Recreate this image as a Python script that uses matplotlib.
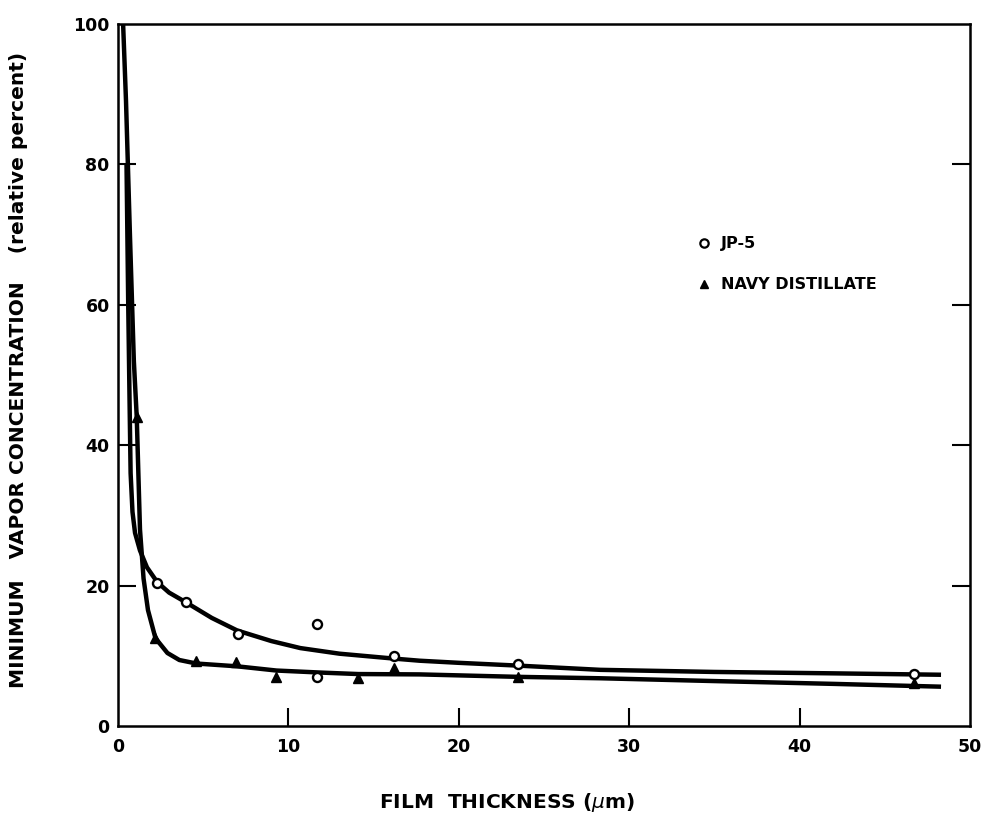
import matplotlib
matplotlib.use("Agg")
import matplotlib.pyplot as plt

# measured points
jp5_x = [2.27, 4.0, 7.05, 11.7, 11.7, 16.2, 23.5, 46.7]
jp5_y = [20.3, 17.6, 13.1, 14.6, 7.0, 10.0, 8.8, 7.4]

navy_x = [1.1, 2.17, 4.6, 6.95, 9.3, 14.1, 16.2, 23.5, 46.7]
navy_y = [44.0, 12.6, 9.2, 9.1, 7.0, 6.8, 8.2, 7.05, 6.1]

# hand-drawn fit curves
jp5_curve_x = [0.5, 0.6, 0.68, 0.74, 0.85, 1.0, 1.29, 1.7, 2.3, 3.0, 4.0, 5.5, 7.0,
               9.0, 10.7, 13.0, 16.2, 17.7, 20.0, 23.5, 28.3, 35.0, 42.0, 48.3]
jp5_curve_y = [80, 60, 46, 36, 30.5, 27.5, 25.0, 22.6, 20.5, 19.0, 17.6, 15.4, 13.6,
               12.1, 11.1, 10.3, 9.6, 9.3, 9.0, 8.6, 8.0, 7.7, 7.5, 7.3]

navy_curve_x = [0.3, 0.47, 0.7, 0.93, 1.1, 1.29, 1.5, 1.76, 2.2, 2.9, 3.6, 4.6, 7.0,
                9.3, 12.0, 14.1, 17.7, 23.5, 28.3, 35.0, 42.0, 48.3]
navy_curve_y = [100, 89, 70, 52, 44, 28, 21, 16.5, 12.5, 10.4, 9.4, 8.9, 8.5,
                7.9, 7.6, 7.4, 7.35, 7.0, 6.8, 6.4, 6.0, 5.6]

x_ticks = [0, 10, 20, 30, 40, 50]
y_ticks = [0, 20, 40, 60, 80, 100]

fig = plt.figure(figsize=(9.89, 8.25), dpi=100)
ax = fig.add_axes([118 / 989, 1 - 726 / 825, 852 / 989, 702 / 825])

ax.plot(navy_curve_x, navy_curve_y, color="black", lw=3.2, solid_capstyle="butt")
ax.plot(jp5_curve_x, jp5_curve_y, color="black", lw=3.2, solid_capstyle="butt")
ax.plot(jp5_x, jp5_y, "o", ms=6.5, mfc="white", mec="black", mew=1.7, zorder=3)
ax.plot(navy_x, navy_y, "^", ms=6.5, color="black", zorder=3)

ax.set_xlim(0, 50)
ax.set_ylim(0, 100)
ax.set_xticks(x_ticks)
ax.set_yticks(y_ticks)
ax.tick_params(axis="both", direction="in", length=13, width=1.5,
               labelsize=12.5, right=True)
ax.tick_params(axis="x", pad=9)
ax.tick_params(axis="y", pad=6)
for lab in ax.get_xticklabels() + ax.get_yticklabels():
    lab.set_fontweight("bold")
# no tick marks at the corners
for t in (ax.xaxis.get_major_ticks()[0], ax.xaxis.get_major_ticks()[-1],
          ax.yaxis.get_major_ticks()[0], ax.yaxis.get_major_ticks()[-1]):
    t.tick1line.set_visible(False)
    t.tick2line.set_visible(False)
for sp in ax.spines.values():
    sp.set_linewidth(1.8)

# legend drawn as plain text like the original
ax.plot([34.4], [68.8], "o", ms=6, mfc="white", mec="black", mew=1.6, clip_on=False)
ax.text(35.4, 68.8, "JP-5", fontsize=11.5, fontweight="bold", va="center")
ax.plot([34.4], [62.9], "^", ms=6, color="black", clip_on=False)
ax.text(35.4, 62.9, "NAVY DISTILLATE", fontsize=11.5, fontweight="bold", va="center")

fig.text(507 / 989, 1 - 803 / 825, r"FILM  THICKNESS ($\mu$m)", fontsize=14.5,
         fontweight="bold", ha="center", va="center")
fig.text(19 / 989, 1 - 370 / 825, "MINIMUM   VAPOR CONCENTRATION    (relative percent)",
         fontsize=14.5, fontweight="bold", rotation=90, ha="center", va="center")

fig.savefig("out.png", dpi=100)
